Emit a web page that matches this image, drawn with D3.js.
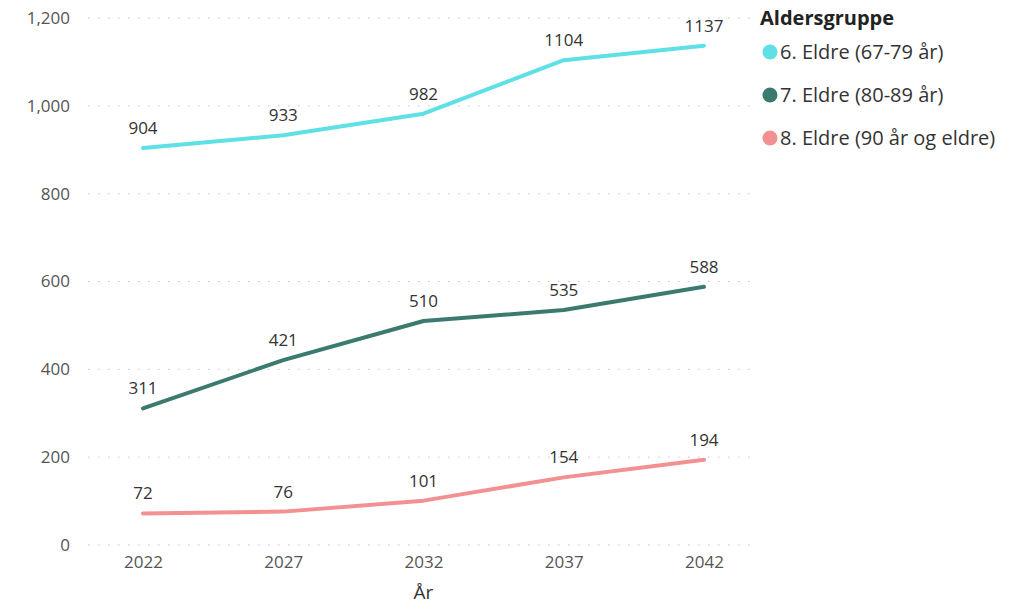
<!DOCTYPE html>
<html>
<head>
<meta charset="utf-8">
<script src="https://cdn.jsdelivr.net/npm/d3@7"></script>
<style>
  body { margin: 0; background: #fff; }
  svg text { font-family: "Segoe UI", "Open Sans", "Noto Sans", sans-serif; }
</style>
</head>
<body>
<div id="chart"></div>
<script>
// data
var years = ["2022", "2027", "2032", "2037", "2042"];
var groups = ["6. Eldre (67-79 år)", "7. Eldre (80-89 år)", "8. Eldre (90 år og eldre)"];
var eldre6779 = [904, 933, 982, 1104, 1137];
var eldre8089 = [311, 421, 510, 535, 588];
var eldre90 = [72, 76, 101, 154, 194];
var yTicks = [0, 200, 400, 600, 800, 1000, 1200];
var colors = ["#5ee0e6", "#3a7a6f", "#f39091"];

var svgWidth = 1033;
var svgHeight = 607;

var svg = d3.select("#chart")
  .append("svg")
  .attr("width", svgWidth)
  .attr("height", svgHeight);

var series = [eldre6779, eldre8089, eldre90];

// scales
var xScale = d3.scalePoint()
  .domain(years)
  .range([143, 704]);

var yScale = d3.scaleLinear()
  .domain([0, 1200])
  .range([545, 18]);

// gridlines
svg.append("g")
  .selectAll("line")
  .data(yTicks)
  .enter()
  .append("line")
  .attr("x1", 88)
  .attr("x2", 757)
  .attr("y1", function(d) { return yScale(d); })
  .attr("y2", function(d) { return yScale(d); })
  .attr("stroke", "#c4c4c4")
  .attr("stroke-width", 1)
  .attr("stroke-dasharray", "1.5,8.5");

// y axis
var leftAxis = d3.axisLeft(yScale)
  .tickValues(yTicks)
  .tickFormat(d3.format(","))
  .tickSize(0)
  .tickPadding(0);

var yAxisG = svg.append("g")
  .attr("transform", "translate(70,0)")
  .call(leftAxis);
yAxisG.select(".domain").remove();
yAxisG.selectAll("text")
  .attr("font-size", 17)
  .attr("fill", "#555")
  .attr("font-family", "'Segoe UI', 'Open Sans', sans-serif");

// x axis
var bottomAxis = d3.axisBottom(xScale).tickSize(0).tickPadding(0);
var xAxisG = svg.append("g")
  .attr("transform", "translate(0,556)")
  .call(bottomAxis);
xAxisG.select(".domain").remove();
xAxisG.selectAll("text")
  .attr("font-size", 17)
  .attr("fill", "#555")
  .attr("font-family", "'Segoe UI', 'Open Sans', sans-serif");

// x title
svg.append("text")
  .attr("x", xScale("2032"))
  .attr("y", 599)
  .attr("text-anchor", "middle")
  .attr("font-size", 19)
  .attr("fill", "#333")
  .text("År");

// lines
var line = d3.line()
  .x(function(d, i) { return xScale(years[i]); })
  .y(function(d) { return yScale(d); });

series.forEach(function(vals, s) {
  svg.append("path")
    .datum(vals)
    .attr("d", line)
    .attr("fill", "none")
    .attr("stroke", colors[s])
    .attr("stroke-width", 4)
    .attr("stroke-linecap", "round")
    .attr("stroke-linejoin", "round");

  svg.append("g")
    .selectAll("text")
    .data(vals)
    .enter()
    .append("text")
    .attr("x", function(d, i) { return xScale(years[i]); })
    .attr("y", function(d) { return yScale(d) - 14; })
    .attr("text-anchor", "middle")
    .attr("font-size", 17)
    .attr("fill", "#333")
    .text(function(d) { return d; });
});

// legend
var legend = svg.append("g").attr("transform", "translate(760,0)");
legend.append("text")
  .attr("x", 0)
  .attr("y", 25)
  .attr("font-size", 20)
  .attr("font-weight", "bold")
  .attr("fill", "#222")
  .text("Aldersgruppe");

var items = legend.selectAll("g.item")
  .data(groups)
  .enter()
  .append("g")
  .attr("class", "item")
  .attr("transform", function(d, i) { return "translate(0," + (52 + i * 43) + ")"; });

items.append("circle")
  .attr("cx", 10)
  .attr("cy", 0)
  .attr("r", 7.5)
  .attr("fill", function(d, i) { return colors[i]; });

items.append("text")
  .attr("x", 20)
  .attr("y", 7)
  .attr("font-size", 20)
  .attr("fill", "#333")
  .text(function(d) { return d; });
</script>
</body>
</html>
